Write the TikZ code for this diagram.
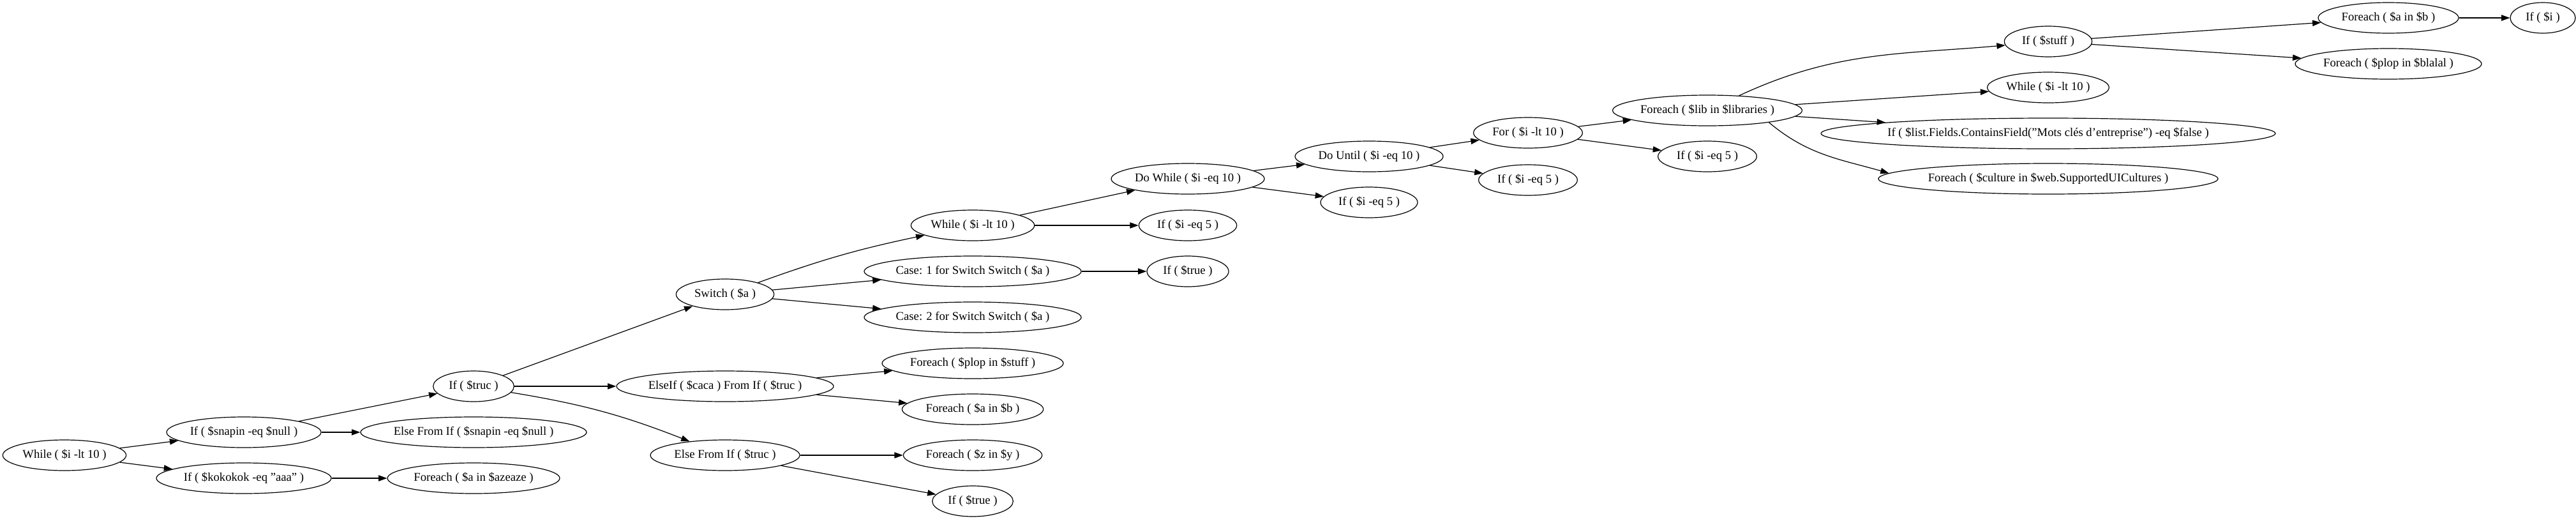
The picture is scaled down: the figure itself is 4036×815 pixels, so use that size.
\documentclass[tikz,border=0pt]{standalone}
\usepackage{fontspec}
\setmainfont{Liberation Serif}
\usepackage{tikz}
\usetikzlibrary{arrows.meta,shapes.geometric}

\begin{document}
\begin{tikzpicture}[x=0.75pt, y=0.75pt,
		blk/.style={draw, ellipse, line width=0.9pt, minimum height=36pt, inner sep=0pt, font=\fontsize{14}{16}\selectfont},
		flow/.style={line width=0.9pt, -{Triangle[length=10pt,width=7pt]}}]
			%%%%% START %%%%%
			
			\useasboundingbox (0,0) rectangle (4036,-815);
			
			\node[blk, minimum width=145pt] (w1) at (101,-713) {While ( \$i -lt 10 )};
			
			\node[blk, minimum width=181.5pt] (ifsnap) at (382,-677) {If ( \$snapin -eq \$null )};
			\node[blk, minimum width=205.5pt] (ifkok) at (382,-749) {If ( \$kokokok -eq "aaa" )};
			
			\node[blk, minimum width=95pt] (iftruc) at (742,-605) {If ( \$truc )};
			\node[blk, minimum width=262.5pt] (elsesnap) at (742,-677) {Else From If ( \$snapin -eq \$null )};
			\node[blk, minimum width=202.5pt] (feaze) at (742,-749) {Foreach ( \$a in \$azeaze )};
			
			\node[blk, minimum width=115pt] (switch) at (1136,-461) {Switch ( \$a )};
			\node[blk, minimum width=255pt] (elseif) at (1136,-605) {ElseIf ( \$caca ) From If ( \$truc )};
			\node[blk, minimum width=175.5pt] (elsetruc) at (1136,-713) {Else From If ( \$truc )};
			
			\node[blk, minimum width=145pt] (w2) at (1524,-353) {While ( \$i -lt 10 )};
			\node[blk, minimum width=253.5pt] (case1) at (1524,-425) {Case: 1 for Switch Switch ( \$a )};
			\node[blk, minimum width=253.5pt] (case2) at (1524,-497) {Case: 2 for Switch Switch ( \$a )};
			\node[blk, minimum width=213pt] (feplop) at (1524,-569) {Foreach ( \$plop in \$stuff )};
			\node[blk, minimum width=166pt] (feab) at (1524,-641) {Foreach ( \$a in \$b )};
			\node[blk, minimum width=163pt] (fezy) at (1524,-713) {Foreach ( \$z in \$y )};
			\node[blk, minimum width=95pt] (iftrue) at (1524,-785) {If ( \$true )};
			
			\node[blk, minimum width=180pt] (dowhile) at (1861,-280) {Do While ( \$i -eq 10 )};
			\node[blk, minimum width=115pt] (ifia) at (1861,-353) {If ( \$i -eq 5 )};
			\node[blk, minimum width=96pt] (iftrueb) at (1861,-425) {If ( \$true )};
			
			\node[blk, minimum width=174pt] (dountil) at (2145,-245) {Do Until ( \$i -eq 10 )};
			\node[blk, minimum width=114pt] (ifib) at (2145,-317) {If ( \$i -eq 5 )};
			
			\node[blk, minimum width=128pt] (forloop) at (2394,-208) {For ( \$i -lt 10 )};
			\node[blk, minimum width=116pt] (ific) at (2394,-282) {If ( \$i -eq 5 )};
			
			\node[blk, minimum width=222pt] (felib) at (2675,-173) {Foreach ( \$lib in \$libraries )};
			\node[blk, minimum width=116pt] (ifid) at (2675,-245) {If ( \$i -eq 5 )};
			
			\node[blk, minimum width=103pt] (ifstuff) at (3209,-65) {If ( \$stuff )};
			\node[blk, minimum width=143pt] (w3) at (3209,-137) {While ( \$i -lt 10 )};
			\node[blk, minimum width=508pt] (iflist) at (3209,-209) {If ( \$list.Fields.ContainsField("Mots clés d’entreprise") -eq \$false )};
			\node[blk, minimum width=388pt] (feculture) at (3209,-280) {Foreach ( \$culture in \$web.SupportedUICultures )};
			
			\node[blk, minimum width=165pt] (feabb) at (3742,-28) {Foreach ( \$a in \$b )};
			\node[blk, minimum width=219pt] (feblalal) at (3742,-100) {Foreach ( \$plop in \$blalal )};
			
			\node[blk, minimum width=76.5pt] (ifi) at (3984,-28) {If ( \$i )};
			
			\draw[flow] (w1) -- (ifsnap);
			\draw[flow] (w1) -- (ifkok);
			\draw[flow] (ifsnap) -- (iftruc);
			\draw[flow] (ifsnap) -- (elsesnap);
			\draw[flow] (ifkok) -- (feaze);
			
			\draw[flow] (iftruc) -- (switch);
			\draw[flow] (iftruc) -- (elseif);
			\draw[flow] (iftruc) to[bend left=6] (elsetruc);
			
			\draw[flow] (switch) to[bend left=4] (w2);
			\draw[flow] (switch) -- (case1);
			\draw[flow] (switch) -- (case2);
			\draw[flow] (elseif) -- (feplop);
			\draw[flow] (elseif) -- (feab);
			\draw[flow] (elsetruc) -- (fezy);
			\draw[flow] (elsetruc) -- (iftrue);
			
			\draw[flow] (w2) -- (dowhile);
			\draw[flow] (w2) -- (ifia);
			\draw[flow] (case1) -- (iftrueb);
			\draw[flow] (dowhile) -- (dountil);
			\draw[flow] (dowhile) -- (ifib);
			\draw[flow] (dountil) -- (forloop);
			\draw[flow] (dountil) -- (ific);
			\draw[flow] (forloop) -- (felib);
			\draw[flow] (forloop) -- (ifid);
			
			\draw[flow] (felib) to[out=25, in=185] (ifstuff);
			\draw[flow] (felib) -- (w3);
			\draw[flow] (felib) -- (iflist);
			\draw[flow] (felib.-11) .. controls +(-40:80) and +(164:80) .. (feculture.178);
			
			\draw[flow] (ifstuff) -- (feabb);
			\draw[flow] (ifstuff) -- (feblalal);
			\draw[flow] (feabb) -- (ifi);
			
			%%%%% END %%%%%
		\end{tikzpicture}
\end{document}
